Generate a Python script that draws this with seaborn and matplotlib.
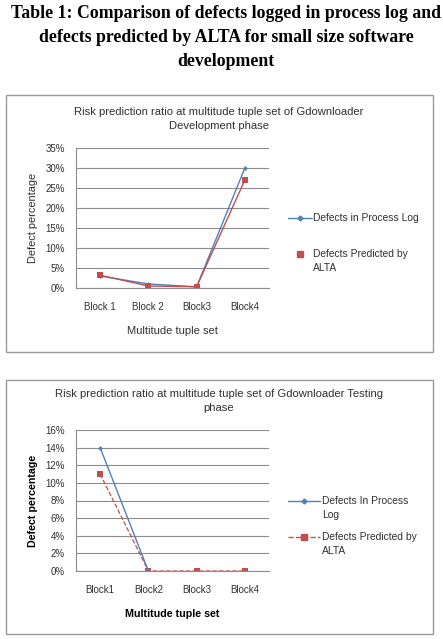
import matplotlib
matplotlib.use("Agg")
import matplotlib.pyplot as plt
import matplotlib.ticker as mticker
from matplotlib.lines import Line2D
from matplotlib.patches import Rectangle
import numpy as np
import pandas as pd
import seaborn as sns

# Development phase data (defect %)
dev_blocks = ["Block 1", "Block 2", "Block3", "Block4"]
dev_log = [3.0, 1.0, 0.3, 30.0]
dev_alta = [3.2, 0.5, 0.3, 27.0]

# Testing phase data (defect %)
test_blocks = ["Block1", "Block2", "Block3", "Block4"]
test_log = [14.0, 0.0, np.nan, np.nan]
test_alta = [11.0, 0.0, 0.0, 0.0]

BLUE = "#4f81bd"
RED = "#c0504d"
GRID = "#8c8c8c"
TXT = "#303030"
W, H = 443, 639

sns.set_style("white")
plt.rcParams["font.family"] = ["Liberation Sans", "DejaVu Sans"]

fig = plt.figure(figsize=(W / 100, H / 100), dpi=100)


def fx(x):
    return x / W


def fy(y):
    return 1 - y / H


def make_axes(left, top, right, bottom):
    return fig.add_axes([fx(left), fy(bottom), (right - left) / W, (bottom - top) / H])


def style_axes(ax, blocks, ymax, step):
    ax.set_xlim(-0.5, 3.5)
    ax.set_ylim(0, ymax)
    ax.set_yticks(np.arange(0, ymax + step / 2, step))
    ax.yaxis.set_major_formatter(mticker.FuncFormatter(lambda v, p: f"{v:.0f}%"))
    ax.set_xticks(range(4))
    ax.set_xticklabels(blocks)
    ax.set_xticks(np.arange(-0.5, 4, 1), minor=True)
    ax.tick_params(axis="x", which="major", length=0, pad=10, labelsize=7, labelcolor=TXT)
    ax.tick_params(axis="x", which="minor", length=3, width=0.8, color=GRID, direction="out")
    ax.tick_params(axis="y", length=3, width=0.8, color=GRID, pad=5, labelsize=7, labelcolor=TXT)
    ax.grid(axis="y", color=GRID, lw=0.8)
    ax.set_axisbelow(True)
    for s in ["top", "right"]:
        ax.spines[s].set_visible(False)
    for s in ["left", "bottom"]:
        ax.spines[s].set_color(GRID)
        ax.spines[s].set_linewidth(0.8)


def series_df(blocks, vals):
    d = pd.DataFrame({"block": blocks, "pct": vals}).dropna()
    return d


def frame_box(top, bottom):
    fig.add_artist(Rectangle((fx(6), fy(bottom)), (433 - 6) / W, (bottom - top) / H,
                             transform=fig.transFigure, fill=False, ec="#9a9a9a", lw=1))


def legend_entry(x0, x1, y, color, marker, ms, ls, lines, text_x, with_line=True):
    if with_line:
        fig.add_artist(Line2D([fx(x0), fx(x1)], [fy(y), fy(y)], transform=fig.transFigure,
                              color=color, lw=1, ls=ls))
    fig.add_artist(Line2D([fx((x0 + x1) / 2)], [fy(y)], transform=fig.transFigure,
                          color=color, marker=marker, ms=ms, ls="none"))
    for i, t in enumerate(lines):
        fig.text(fx(text_x), fy(y + i * 14), t, fontsize=7.4, color=TXT, ha="left", va="center")


# Main caption
caption = ["Table 1: Comparison of defects logged in process log and",
           "defects predicted by ALTA for small size software",
           "development"]
for i, line in enumerate(caption):
    fig.text(fx(226), fy(14 + i * 24), line, family=["Liberation Serif", "DejaVu Serif"],
             weight="bold", fontsize=12.75, ha="center", va="center", color="black")

# ---------- Chart 1: Development phase ----------
frame_box(95, 352)
ax1 = make_axes(76, 148, 269, 288)
sns.lineplot(data=series_df(dev_blocks, dev_log), x="block", y="pct", ax=ax1, color=BLUE,
             marker="D", markersize=2.5, markeredgewidth=0, lw=1, sort=False)
sns.lineplot(data=series_df(dev_blocks, dev_alta), x="block", y="pct", ax=ax1, color=RED,
             marker="s", markersize=4.5, markeredgewidth=0, lw=1, sort=False)
style_axes(ax1, dev_blocks, 35, 5)
ax1.set_xlabel("Multitude tuple set", fontsize=8, color=TXT, labelpad=10)
ax1.set_ylabel("Defect percentage", fontsize=7.9, color=TXT, labelpad=5)
fig.text(fx(219), fy(112), "Risk prediction ratio at multitude tuple set of Gdownloader",
         fontsize=8.1, ha="center", va="center", color=TXT)
fig.text(fx(219), fy(126), "Development phase", fontsize=8.1, ha="center", va="center", color=TXT)

legend_entry(288, 312, 218, BLUE, "D", 2.5, "-", ["Defects in Process Log"], 313)
legend_entry(288, 312, 254, RED, "s", 4.5, "-", ["Defects Predicted by", "ALTA"], 313,
             with_line=False)

# ---------- Chart 2: Testing phase ----------
frame_box(380, 634)
ax2 = make_axes(76, 430, 269, 571)
sns.lineplot(data=series_df(test_blocks, test_alta), x="block", y="pct", ax=ax2, color=RED,
             marker="s", markersize=4, markeredgewidth=0, lw=0.9, ls="--", sort=False)
sns.lineplot(data=series_df(test_blocks, test_log), x="block", y="pct", ax=ax2, color=BLUE,
             marker="D", markersize=2.5, markeredgewidth=0, lw=1, sort=False)
style_axes(ax2, test_blocks, 16, 2)
ax2.set_xlabel("Multitude tuple set", fontsize=7.7, color="black", weight="bold", labelpad=10)
ax2.set_ylabel("Defect percentage", fontsize=7.7, color="black", weight="bold", labelpad=5)
fig.text(fx(219), fy(394), "Risk prediction ratio at multitude tuple set of Gdownloader Testing",
         fontsize=8.1, ha="center", va="center", color=TXT)
fig.text(fx(219), fy(408), "phase", fontsize=8.1, ha="center", va="center", color=TXT)

legend_entry(288, 320, 501, BLUE, "D", 2.5, "-", ["Defects In Process", "Log"], 322)
legend_entry(288, 320, 537, RED, "s", 4, "--", ["Defects Predicted by", "ALTA"], 322)

fig.savefig("out.png", dpi=100)
